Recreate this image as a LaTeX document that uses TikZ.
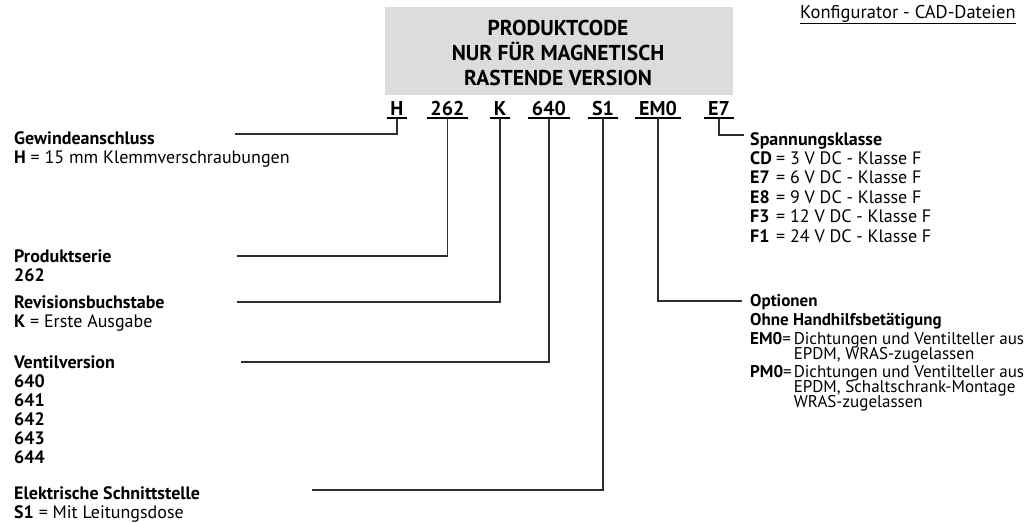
\documentclass[tikz,border=0pt]{standalone}
\usepackage{fontspec}
\setmainfont{PT Sans}
\usetikzlibrary{positioning}
\definecolor{boxgray}{RGB}{218,220,222}
\definecolor{linegray}{RGB}{45,45,45}
\newcommand{\bodyfont}{\fontsize{18}{19}\selectfont}
\newcommand{\titlefont}{\fontsize{21.5}{25}\selectfont\bfseries}
\newcommand{\codefont}{\fontsize{20}{22}\selectfont\bfseries}
\newcommand{\vclass}[2]{\makebox[26pt][l]{\textbf{#1}}= #2}
\tikzset{x=1pt, y=-1pt,
every node/.style={inner sep=0pt, font=\bodyfont},
titlebox/.style={fill=boxgray, minimum width=348pt, minimum height=88pt}, % grey title field
titletext/.style={anchor=base, font=\titlefont},
codeletter/.style={anchor=base, font=\codefont, inner xsep=3.5pt},
codeline/.style={line width=1.8pt, black}, % underline below each code part
desc/.style={anchor=base west, align=left},
conn/.style={draw=linegray, line width=1.1pt}}

\begin{document}
\begin{tikzpicture}
\useasboundingbox (0,0) rectangle (1024,522);
% title field
\node[titlebox] (box) at (559,51) {};
\node[titletext] (t1) at (558,35) {PRODUKTCODE};
\node[titletext] (t2) at (558,60) {NUR FÜR MAGNETISCH};
\node[titletext] (t3) at (558,85) {RASTENDE VERSION};
\node[desc, font=\fontsize{18.5}{19}\selectfont] (cad) at (800,18) {\underline{Konfigurator - CAD-Dateien}};

% code parts
\foreach \n/\t/\x in {h/H/397, ser/262/447.5, rev/K/500, ver/640/549, el/S1/603, opt/EM0/658, volt/E7/719}{
\node[codeletter] (\n) at (\x,115) {\t};
\draw[codeline] ([yshift=-3pt]\n.base west) -- ([yshift=-3pt]\n.base east);
\coordinate (\n-u) at ([yshift=-3pt]\n.base);
}

% left side
\node[desc] (gew) at (14,144) {\begin{tabular}[t]{@{}l@{}}\textbf{Gewindeanschluss}\\\textbf{H} = 15 mm Klemmverschraubungen\end{tabular}};
\node[desc] (ser) at (14,262) {\begin{tabular}[t]{@{}l@{}}\textbf{Produktserie}\\\textbf{262}\end{tabular}};
\node[desc] (rev) at (14,308) {\begin{tabular}[t]{@{}l@{}}\textbf{Revisionsbuchstabe}\\\textbf{K} = Erste Ausgabe\end{tabular}};
\node[desc] (ventil) at (14,368) {\begin{tabular}[t]{@{}l@{}}\textbf{Ventilversion}\\\textbf{640}\\\textbf{641}\\\textbf{642}\\\textbf{643}\\\textbf{644}\end{tabular}};
\node[desc] (elek) at (14,499) {\begin{tabular}[t]{@{}l@{}}\textbf{Elektrische Schnittstelle}\\\textbf{S1} = Mit Leitungsdose\end{tabular}};

% right side
\node[desc, font=\fontsize{18}{19.4}\selectfont] (span) at (750,145) {\begin{tabular}[t]{@{}l@{}}\textbf{Spannungsklasse}\\
\vclass{CD}{3 V DC - Klasse F}\\
\vclass{E7}{6 V DC - Klasse F}\\
\vclass{E8}{9 V DC - Klasse F}\\
\vclass{F3}{12 V DC - Klasse F}\\
\vclass{F1}{24 V DC - Klasse F}\end{tabular}};
\node[desc, font=\fontsize{17}{19}\selectfont] (optn) at (750,306) {\begin{tabular}[t]{@{}l@{\hspace{2pt}}l@{}}
\multicolumn{2}{@{}l@{}}{\textbf{Optionen}}\\
\multicolumn{2}{@{}l@{}}{\textbf{Ohne Handhilfsbetätigung}}\\
\textbf{EM0}= & Dichtungen und Ventilteller aus\\[-4pt]
 & EPDM, WRAS-zugelassen\\[-1pt]
\textbf{PM0}= & Dichtungen und Ventilteller aus\\[-4pt]
 & EPDM, Schaltschrank-Montage\\[-4pt]
 & WRAS-zugelassen\end{tabular}};

% connectors
\coordinate (gew-end) at (235,134);
\coordinate (ser-end) at (237,256);
\coordinate (rev-end) at (237,302);
\coordinate (ventil-end) at (241,362);
\coordinate (elek-end) at (312,490);
\coordinate (span-end) at (744,135);
\coordinate (optn-end) at (742,301);
\draw[conn] (h-u) |- (gew-end);
\draw[conn] (ser-u) |- (ser-end);
\draw[conn] (rev-u) |- (rev-end);
\draw[conn] (ver-u) |- (ventil-end);
\draw[conn] (el-u) |- (elek-end);
\draw[conn] (volt-u) |- (span-end);
\draw[conn] (opt-u) |- (optn-end);
\end{tikzpicture}
\end{document}
